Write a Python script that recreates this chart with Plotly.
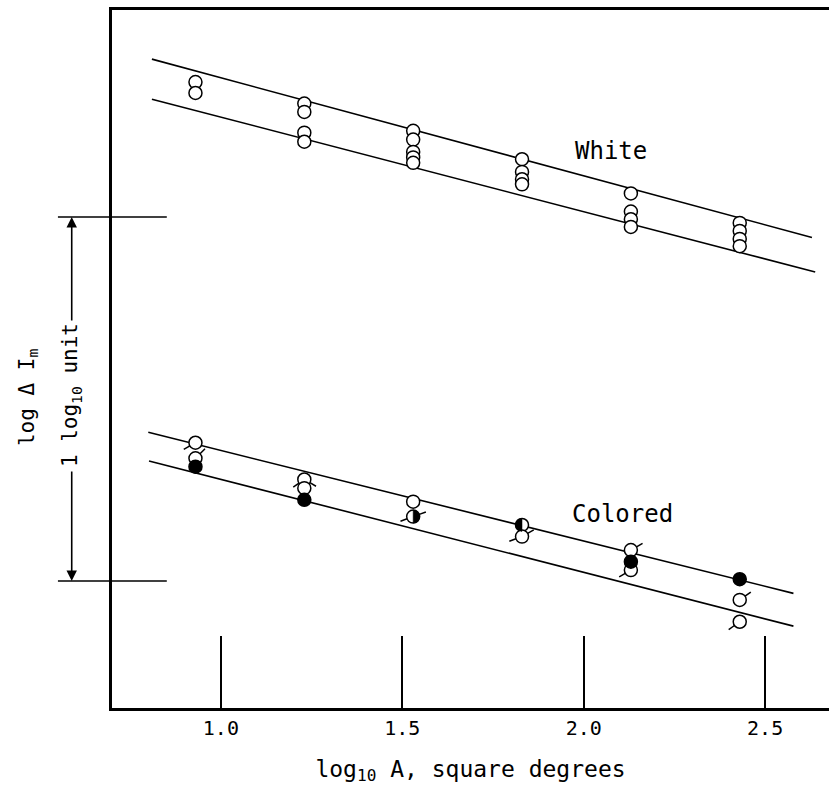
import math
import plotly.graph_objects as go

# ---- data -------------------------------------------------------------
# log10 of the test-field area (square degrees)
tick_vals = [1.0, 1.5, 2.0, 2.5]
tick_text = ["1.0", "1.5", "2.0", "2.5"]

# White light: log increment threshold, one value per observer/session
white_x = [0.93, 0.93,
           1.23, 1.23, 1.23, 1.23,
           1.53, 1.53, 1.53, 1.53, 1.53,
           1.83, 1.83, 1.83, 1.83,
           2.13, 2.13, 2.13, 2.13,
           2.43, 2.43, 2.43, 2.43]
white_y = [1.371, 1.341,
           1.312, 1.289, 1.232, 1.207,
           1.237, 1.213, 1.179, 1.164, 1.149,
           1.159, 1.124, 1.104, 1.090,
           1.065, 1.015, 0.994, 0.973,
           0.984, 0.962, 0.940, 0.920]

# Coloured light
colored_x = [0.93, 0.93, 0.93,
             1.23, 1.23, 1.23,
             1.53, 1.53,
             1.83, 1.83,
             2.13, 2.13, 2.13,
             2.43, 2.43, 2.43]
colored_y = [0.380, 0.337, 0.314,
             0.279, 0.255, 0.223,
             0.218, 0.177,
             0.154, 0.122,
             0.085, 0.053, 0.030,
             0.005, -0.052, -0.112]
# symbol fill: open, solid, or half filled (left / right)
colored_fill = ["open", "open", "solid",
                "open", "open", "solid",
                "open", "right",
                "left", "open",
                "open", "solid", "open",
                "solid", "open", "open"]
# directions (degrees) of the small pips attached to some symbols
colored_pips = [[210], [45], [],
                [215, 330], [], [],
                [], [200, 20],
                [], [200, 30],
                [30], [], [210],
                [], [35], [215]]

# Fitted straight lines (two bounding lines per condition)
white_upper_x = [0.81, 2.629]
white_upper_y = [1.434, 0.944]
white_lower_x = [0.81, 2.638]
white_lower_y = [1.324, 0.849]
colored_upper_x = [0.800, 2.578]
colored_upper_y = [0.4085, -0.034]
colored_lower_x = [0.802, 2.578]
colored_lower_y = [0.330, -0.124]

# ---- layout geometry ------------------------------------------------
W, H = 829, 788
ML, MR, MT, MB = 112, 0, 10, 80
x_range = [0.70, 2.676]
y_range = [-0.349, 1.569]
plot_w = W - ML - MR
px_per_unit = plot_w / (x_range[1] - x_range[0])

FONT = "DejaVu Sans Mono"
MARKER_SIZE = 13
r_data = (MARKER_SIZE / 2) / px_per_unit
pip_len = 7 / px_per_unit


def xp(v):
    return (v - x_range[0]) / (x_range[1] - x_range[0])


def yp(v):
    return (v - y_range[0]) / (y_range[1] - y_range[0])


fig = go.Figure()

line_style = dict(color="black", width=1.6)
for lx, ly in [(white_upper_x, white_upper_y), (white_lower_x, white_lower_y),
               (colored_upper_x, colored_upper_y), (colored_lower_x, colored_lower_y)]:
    fig.add_trace(go.Scatter(x=lx, y=ly, mode="lines", line=line_style,
                             hoverinfo="skip", showlegend=False))

open_marker = dict(symbol="circle", size=MARKER_SIZE, color="white",
                   line=dict(color="black", width=1.5))
solid_marker = dict(symbol="circle", size=MARKER_SIZE, color="black",
                    line=dict(color="black", width=1.5))

# white-light symbols
fig.add_trace(go.Scatter(x=white_x, y=white_y, mode="markers",
                         marker=open_marker, showlegend=False))

# pips on coloured symbols
pip_x, pip_y = [], []
for cx, cy, angs in zip(colored_x, colored_y, colored_pips):
    for a in angs:
        t = math.radians(a)
        pip_x += [cx + r_data * math.cos(t), cx + (r_data + pip_len) * math.cos(t), None]
        pip_y += [cy + r_data * math.sin(t), cy + (r_data + pip_len) * math.sin(t), None]
fig.add_trace(go.Scatter(x=pip_x, y=pip_y, mode="lines",
                         line=dict(color="black", width=1.5),
                         hoverinfo="skip", showlegend=False))

# coloured symbols: open (incl. half filled) then solid
ox = [x for x, f in zip(colored_x, colored_fill) if f != "solid"]
oy = [y for y, f in zip(colored_y, colored_fill) if f != "solid"]
sx = [x for x, f in zip(colored_x, colored_fill) if f == "solid"]
sy = [y for y, f in zip(colored_y, colored_fill) if f == "solid"]
fig.add_trace(go.Scatter(x=ox, y=oy, mode="markers", marker=open_marker, showlegend=False))
fig.add_trace(go.Scatter(x=sx, y=sy, mode="markers", marker=solid_marker, showlegend=False))

# half-filled symbols as filled semicircles
for cx, cy, f in zip(colored_x, colored_y, colored_fill):
    if f not in ("left", "right"):
        continue
    start = -90 if f == "right" else 90
    angs = [math.radians(start + k * 180 / 24) for k in range(25)]
    hx = [cx + r_data * math.cos(a) for a in angs]
    hy = [cy + r_data * math.sin(a) for a in angs]
    fig.add_trace(go.Scatter(x=hx + [hx[0]], y=hy + [hy[0]], mode="lines",
                             fill="toself", fillcolor="black",
                             line=dict(color="black", width=0.5),
                             hoverinfo="skip", showlegend=False))

# ---- scale bar on the left: one log10 unit -------------------------
bar_x0, bar_x1 = 0.551, 0.851
bar_mid = 0.589
shapes = []
for v in (0.0, 1.0):
    shapes.append(dict(type="line", xref="paper", yref="paper",
                       x0=xp(bar_x0), x1=xp(bar_x1), y0=yp(v), y1=yp(v),
                       line=dict(color="black", width=1.6)))

annotations = [
    dict(xref="paper", yref="paper", x=xp(bar_mid), y=yp(1.0), ax=0, ay=105,
         text="", showarrow=True, arrowhead=2, arrowsize=1.3, arrowwidth=1.6,
         arrowcolor="black"),
    dict(xref="paper", yref="paper", x=xp(bar_mid), y=yp(0.0), ax=0, ay=-111,
         text="", showarrow=True, arrowhead=2, arrowsize=1.3, arrowwidth=1.6,
         arrowcolor="black"),
    dict(xref="paper", yref="paper", x=xp(bar_mid), y=yp(0.51),
         text="1 log<sub>10</sub> unit", textangle=-90, showarrow=False,
         font=dict(family=FONT, size=21, color="black"),
         xanchor="center", yanchor="middle"),
    dict(xref="paper", yref="paper", x=xp(0.468), y=yp(0.505),
         text="log \u0394 I<sub>m</sub>", textangle=-90, showarrow=False,
         font=dict(family=FONT, size=21, color="black"),
         xanchor="center", yanchor="middle"),
    dict(xref="x", yref="y", x=2.075, y=1.181, text="White", showarrow=False,
         font=dict(family=FONT, size=24, color="black"),
         xanchor="center", yanchor="middle"),
    dict(xref="x", yref="y", x=2.107, y=0.184, text="Colored", showarrow=False,
         font=dict(family=FONT, size=24, color="black"),
         xanchor="center", yanchor="middle"),
]

fig.update_layout(
    width=W, height=H,
    margin=dict(l=ML, r=MR, t=MT, b=MB),
    paper_bgcolor="white", plot_bgcolor="white",
    showlegend=False,
    shapes=shapes, annotations=annotations,
    xaxis=dict(range=x_range, showgrid=False, zeroline=False,
               showline=True, linecolor="black", linewidth=3, mirror=True,
               ticks="inside", ticklen=72, tickwidth=1.5, tickcolor="black",
               tickvals=tick_vals, ticktext=tick_text,
               tickfont=dict(family=FONT, size=20, color="black"),
               title=dict(text="log<sub>10</sub> A, square degrees",
                          font=dict(family=FONT, size=23, color="black"),
                          standoff=22)),
    yaxis=dict(range=y_range, showgrid=False, zeroline=False,
               showline=True, linecolor="black", linewidth=3,
               showticklabels=False, ticks=""),
)

fig.write_html("out.html")
